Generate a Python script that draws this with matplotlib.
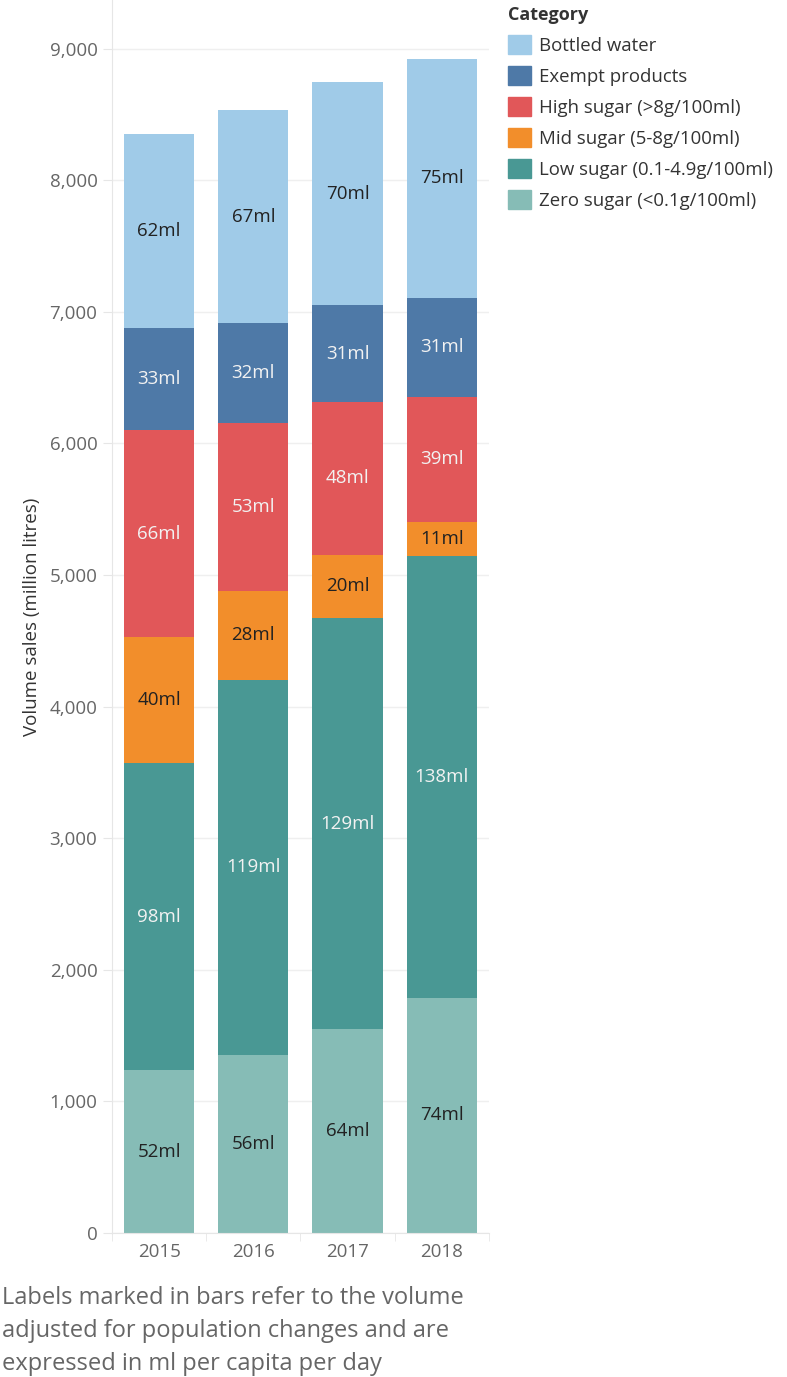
import numpy as np
import matplotlib.pyplot as plt
from matplotlib.patches import Patch

plt.rcParams['font.family'] = ['Open Sans', 'DejaVu Sans']

years = ['2015', '2016', '2017', '2018']

# volume sales (million litres), bottom to top of each stack
zero_sugar = [1236, 1355, 1548, 1786]
low_sugar = [2337, 2851, 3127, 3357]
mid_sugar = [958, 669, 476, 262]
high_sugar = [1568, 1282, 1166, 947]
exempt = [781, 761, 732, 756]
bottled_water = [1471, 1613, 1698, 1816]

# per capita labels (ml per day)
zero_lbl = ['52ml', '56ml', '64ml', '74ml']
low_lbl = ['98ml', '119ml', '129ml', '138ml']
mid_lbl = ['40ml', '28ml', '20ml', '11ml']
high_lbl = ['66ml', '53ml', '48ml', '39ml']
exempt_lbl = ['33ml', '32ml', '31ml', '31ml']
water_lbl = ['62ml', '67ml', '70ml', '75ml']

names = ['Zero sugar (<0.1g/100ml)', 'Low sugar (0.1-4.9g/100ml)',
         'Mid sugar (5-8g/100ml)', 'High sugar (>8g/100ml)',
         'Exempt products', 'Bottled water']
series = [zero_sugar, low_sugar, mid_sugar, high_sugar, exempt, bottled_water]
labels = [zero_lbl, low_lbl, mid_lbl, high_lbl, exempt_lbl, water_lbl]
colors = ['#86BCB6', '#499894', '#F28E2B', '#E15759', '#4E79A7', '#A0CBE8']
text_colors = ['#222222', '#f2f2f2', '#222222', '#f2f2f2', '#f2f2f2', '#222222']

fig = plt.figure(figsize=(7.87, 13.77), dpi=100)
ax = fig.add_axes([0.1423, 0.1046, 0.479, 0.8954])

x = np.arange(len(years))
bottom = np.zeros(len(years))
for vals, lbls, col, tcol in zip(series, labels, colors, text_colors):
    vals = np.array(vals, dtype=float)
    ax.bar(x, vals, 0.745, bottom=bottom, color=col, zorder=2)
    for xi, b, v, t in zip(x, bottom, vals, lbls):
        ax.text(xi, b + v / 2, t, ha='center', va='center', fontsize=13.5,
                color=tcol, zorder=3)
    bottom += vals

ax.set_xlim(-0.5, 3.5)
ax.set_ylim(0, 9370)
ax.set_yticks(np.arange(0, 9001, 1000))
ax.set_yticklabels([f'{v:,}' for v in range(0, 9001, 1000)])
ax.set_xticks(x)
ax.set_xticklabels(years)
ax.set_xticks([-0.5, 0.5, 1.5, 2.5, 3.5], minor=True)
ax.tick_params(axis='y', length=6.5, color='#e6e6e6', labelsize=13.5,
               labelcolor='#666666', pad=4)
ax.tick_params(axis='x', which='major', length=0, labelsize=13.5,
               labelcolor='#666666', pad=7)
ax.tick_params(axis='x', which='minor', length=6, color='#e6e6e6')
ax.grid(axis='y', color='#efefef', linewidth=1, zorder=0)
for s in ['top', 'right']:
    ax.spines[s].set_visible(False)
ax.spines['left'].set_color('#e6e6e6')
ax.spines['bottom'].set_color('#e6e6e6')
ax.set_ylabel('Volume sales (million litres)', fontsize=13.5, color='#333333',
              labelpad=6)

handles = [Patch(color=c, label=n) for c, n in zip(colors[::-1], names[::-1])]
leg = fig.legend(handles=handles, loc='upper left', bbox_to_anchor=(0.646, 0.996),
                 frameon=False, fontsize=13.4, title='Category',
                 title_fontproperties={'size': 13, 'weight': 'bold'},
                 alignment='left', handlelength=1.22, handleheight=1.22,
                 handletextpad=0.45, labelspacing=0.6, borderaxespad=0,
                 borderpad=0)
for t in leg.get_texts():
    t.set_color('#333333')
leg.get_title().set_color('#333333')

fig.text(0.003, 0.066,
         'Labels marked in bars refer to the volume\n'
         'adjusted for population changes and are\n'
         'expressed in ml per capita per day',
         fontsize=17, color='#666666', va='top', ha='left', linespacing=1.5)

fig.savefig('out.png', dpi=100)
